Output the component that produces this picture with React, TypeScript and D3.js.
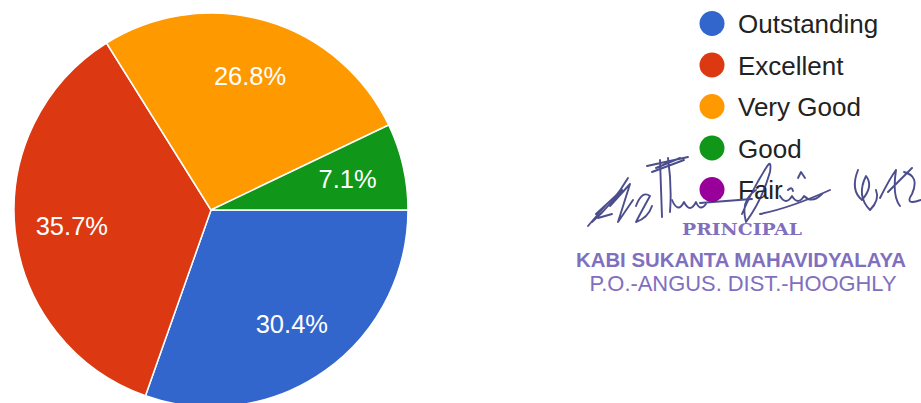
import React from "react";
import * as d3 from "d3";

const categories = ["Outstanding", "Excellent", "Very Good", "Good", "Fair"];
const values = [30.4, 35.7, 26.8, 7.1, 0];
const colors = ["#3366cc", "#dc3912", "#ff9900", "#109618", "#990099"];
const stampLines = ["PRINCIPAL", "KABI SUKANTA MAHAVIDYALAYA", "P.O.-ANGUS. DIST.-HOOGHLY"];

const W = 921;
const H = 403;
const cx = 211;
const cy = 210;
const R = 197;

const signaturePaths = [
  "M588,226 L606,205 L596,214 L622,190 L610,206 L630,184 L618,222 L633,200",
  "M592,222 Q612,205 628,178 M598,218 L612,214",
  "M636,206 Q642,190 650,196 Q640,214 636,222 Q648,218 652,206",
  "M647,166 L688,157 M652,172 L684,160 M656,168 L680,158 M660,160 Q661,190 662,217 M668,158 Q672,186 670,212",
  "M672,200 Q678,214 684,202 Q690,214 696,202 Q700,212 706,204",
  "M700,203 L752,199",
  "M742,214 Q752,190 766,168 Q772,158 770,172 Q762,200 746,222 Q740,200 756,190",
  "M780,196 Q786,206 792,196 Q798,206 804,196 Q812,204 822,194",
  "M798,178 L801,172 L805,178 M788,190 Q792,186 793,191",
  "M760,214 Q790,208 830,190",
  "M858,170 Q850,190 862,200 Q874,186 866,176 Q856,196 870,210 Q880,200 876,190",
  "M880,198 Q890,178 896,170 Q892,196 900,206 M888,192 L912,168 M904,172 Q920,176 912,194 Q904,206 921,200",
];

export default function App() {
  const pie = d3
    .pie<number>()
    .sort(null)
    .startAngle(Math.PI / 2)
    .endAngle(Math.PI / 2 + 2 * Math.PI);
  const arcs = pie(values);
  const arc = d3.arc<d3.PieArcDatum<number>>().innerRadius(0).outerRadius(R);
  const labelArc = d3.arc<d3.PieArcDatum<number>>().innerRadius(140).outerRadius(140);

  const legendY = d3.scaleLinear().domain([0, 1]).range([23.5, 65]);

  return (
    <svg
      width={W}
      height={H}
      style={{ position: "absolute", left: 0, top: 0, background: "#fff" }}
    >
      <rect x={0} y={0} width={W} height={H} fill="#ffffff" />
      <g transform={`translate(${cx},${cy})`}>
        {arcs.map((a, i) =>
          a.value > 0 ? (
            <path key={i} d={arc(a) || ""} fill={colors[i]} stroke="#ffffff" strokeWidth={1.5} />
          ) : null
        )}
        {arcs.map((a, i) => {
          if (a.value <= 0) return null;
          const [x, y] = labelArc.centroid(a);
          return (
            <text
              key={"l" + i}
              x={x}
              y={y}
              dy="0.36em"
              textAnchor="middle"
              fill="#ffffff"
              fontFamily="Arial, 'Liberation Sans', sans-serif"
              fontSize={25.5}
            >
              {a.value.toFixed(1)}%
            </text>
          );
        })}
      </g>
      <g>
        {categories.map((c, i) => (
          <g key={c} transform={`translate(712,${legendY(i)})`}>
            <circle r={12.5} fill={colors[i]} />
            <text
              x={26}
              y={9.5}
              fill="#222222"
              fontFamily="Arial, 'Liberation Sans', sans-serif"
              fontSize={26}
            >
              {c}
            </text>
          </g>
        ))}
      </g>
      <g fill="none" stroke="#2d2f78" strokeWidth={1.9} strokeLinecap="round" strokeLinejoin="round" opacity={0.85}>
        {signaturePaths.map((d, i) => (
          <path key={i} d={d} />
        ))}
      </g>
      <g fill="#6b56b3" opacity={0.85}>
        <text x={742} y={235} textAnchor="middle" fontFamily="'DejaVu Serif', serif" fontWeight="bold" fontSize={17} textLength={120} lengthAdjust="spacingAndGlyphs">
          {stampLines[0]}
        </text>
        <text x={741} y={267} textAnchor="middle" fontFamily="Arial, 'Liberation Sans', sans-serif" fontSize={19.8} fontWeight="bold" textLength={330} lengthAdjust="spacingAndGlyphs">
          {stampLines[1]}
        </text>
        <text x={743} y={291} textAnchor="middle" fontFamily="Arial, 'Liberation Sans', sans-serif" fontSize={21.2} textLength={307} lengthAdjust="spacingAndGlyphs">
          {stampLines[2]}
        </text>
      </g>
    </svg>
  );
}
